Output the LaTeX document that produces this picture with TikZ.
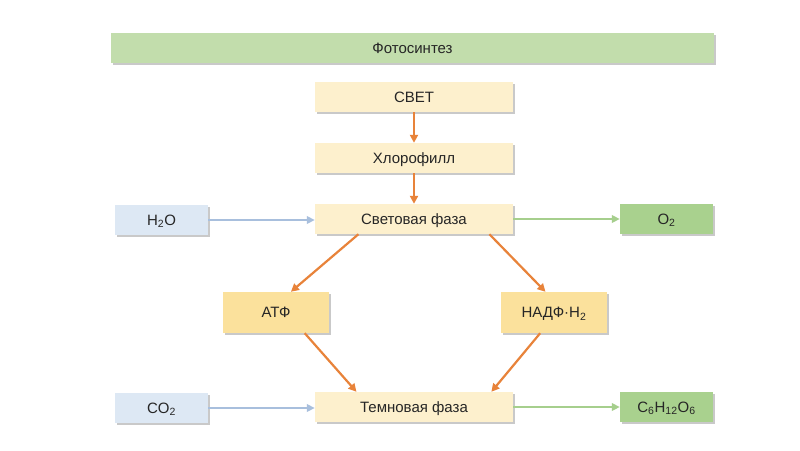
\documentclass[tikz,border=0pt]{standalone}
\usepackage{fontspec}
\setmainfont{Liberation Sans}
\usetikzlibrary{arrows.meta,shadows,calc}
\definecolor{titlegreen}{HTML}{C2DDAC}
\definecolor{cream}{HTML}{FDF0CD}
\definecolor{gold}{HTML}{FBE19C}
\definecolor{paleblue}{HTML}{DDE8F4}
\definecolor{green2}{HTML}{A9D18E}
\definecolor{orangearr}{HTML}{E8833A}
\definecolor{bluearr}{HTML}{A8BFDD}
\definecolor{greenarr}{HTML}{A6CF8D}
\tikzset{
  box/.style={rectangle, inner sep=0pt, font=\fontsize{15}{17}\selectfont, text=black!85,
    text height=10.6pt, text depth=0pt,
    drop shadow={shadow xshift=1.5pt, shadow yshift=-1.5pt, opacity=0.35, fill=black!60}},
  titlebox/.style={box, fill=titlegreen, minimum width=603pt, minimum height=30pt},
  mainbox/.style={box, fill=cream, minimum width=198pt, minimum height=30pt},
  sidebox/.style={box, fill=paleblue, minimum width=93pt, minimum height=30pt},
  outbox/.style={box, fill=green2, minimum width=93pt, minimum height=30pt},
  midbox/.style={box, fill=gold, minimum width=106pt, minimum height=41pt},
  oarr/.style={draw=orangearr, line width=2.2pt, -{Triangle[length=8pt,width=8pt]}},
  barr/.style={draw=bluearr, line width=2pt, -{Triangle[length=8pt,width=7.5pt]}},
  garr/.style={draw=greenarr, line width=2pt, -{Triangle[length=8pt,width=7.5pt]}},
}
\begin{document}
\begin{tikzpicture}[x=1pt,y=-1pt]
\useasboundingbox[fill=white] (0,0) rectangle (800,450);
\node[titlebox] (title) at (412.5,48) {Фотосинтез};
\node[mainbox] (svet) at (414,97) {СВЕТ};
\node[mainbox] (chl) at (414,158) {Хлорофилл};
\node[mainbox] (sf) at (414,219) {Световая фаза};
\node[sidebox] (h2o) at (161.5,220) {H\textsubscript{2}O};
\node[outbox] (o2) at (666.5,219) {O\textsubscript{2}};
\node[midbox] (atf) at (276,312.5) {АТФ};
\node[midbox] (nadf) at (554,312.5) {НАДФ·H\textsubscript{2}};
\node[mainbox] (tf) at (414,407) {Темновая фаза};
\node[sidebox] (co2) at (161.5,408) {CO\textsubscript{2}};
\node[outbox] (glu) at (666.5,407) {C\textsubscript{6}H\textsubscript{12}O\textsubscript{6}};

\draw[oarr] (svet) -- (chl);
\draw[oarr] (chl) -- (sf);
\draw[barr] (h2o) -- (sf.west |- h2o);
\draw[garr] (sf) -- (o2);
\draw[barr] (co2) -- (tf.west |- co2);
\draw[garr] (tf) -- (glu);
\draw[oarr] ($(sf.south west)!0.22!(sf.south east)$) -- ($(atf.north west)!0.64!(atf.north east)$);
\draw[oarr] ($(sf.south west)!0.88!(sf.south east)$) -- ($(nadf.north west)!0.42!(nadf.north east)$);
\draw[oarr] ($(atf.south west)!0.77!(atf.south east)$) -- ($(tf.north west)!0.21!(tf.north east)$);
\draw[oarr] ($(nadf.south west)!0.37!(nadf.south east)$) -- ($(tf.north west)!0.89!(tf.north east)$);
\end{tikzpicture}
\end{document}
